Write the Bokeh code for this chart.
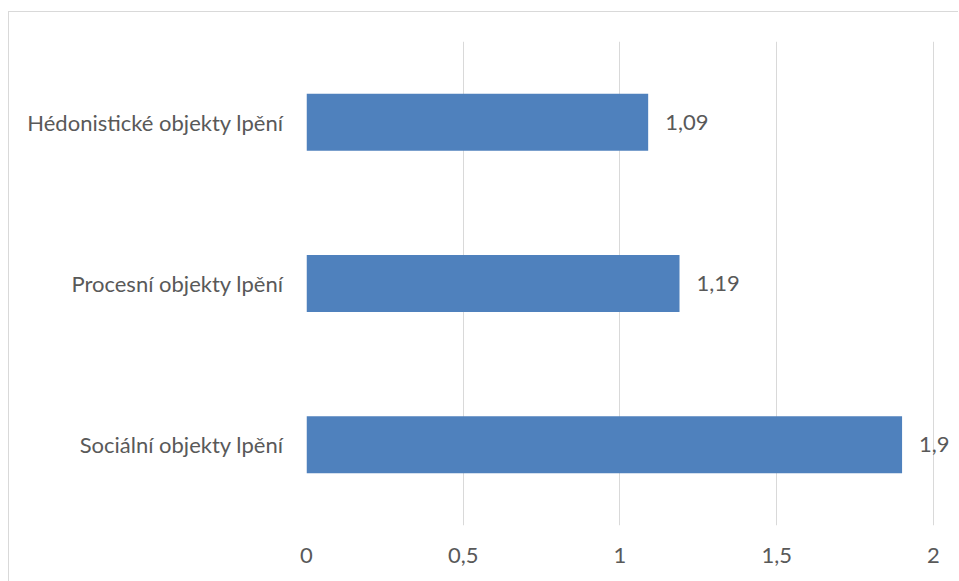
from bokeh.plotting import figure
from bokeh.models import ColumnDataSource, FactorRange, FixedTicker, LabelSet
from bokeh.core.properties import value
from bokeh.embed import file_html
from bokeh.resources import INLINE

categories = ["Hédonistické objekty lpění", "Procesní objekty lpění", "Sociální objekty lpění"]
values = [1.09, 1.19, 1.9]
x_ticks = [0, 0.5, 1, 1.5, 2]
x_tick_labels = ["0", "0,5", "1", "1,5", "2"]

FONT = "Lato"
FS = "22px"
TEXT_COLOR = "#595959"
GRID = "#D9D9D9"

labels = [str(v).replace(".", ",") for v in values]
src = ColumnDataSource(dict(cat=categories, val=values, lab=labels))

p = figure(
    frame_width=652, frame_height=484,
    y_range=FactorRange(factors=list(reversed(categories)), range_padding=0),
    x_range=(0, 2.08),
    output_backend="svg", toolbar_location=None,
    min_border_left=297, min_border_right=0, min_border_top=29, min_border_bottom=56,
)
p.margin = (11, 0, 0, 8)
p.styles = {"border-top": f"1px solid {GRID}", "border-left": f"1px solid {GRID}"}
p.outline_line_color = None

p.hbar(y="cat", right="val", height=0.353, source=src, color="#4F81BD", line_color=None)

p.add_layout(LabelSet(x="val", y="cat", text="lab", source=src, x_offset=17,
                      text_align="left", text_baseline="middle",
                      text_font=value(FONT), text_font_size=FS, text_color=TEXT_COLOR))

p.xaxis.ticker = FixedTicker(ticks=x_ticks)
p.xaxis.major_label_overrides = {t: l for t, l in zip(x_ticks, x_tick_labels)}
for ax in (p.xaxis, p.yaxis):
    ax.axis_line_color = None
    ax.major_tick_line_color = None
    ax.minor_tick_line_color = None
    ax.major_label_text_font = FONT
    ax.major_label_text_font_size = FS
    ax.major_label_text_color = TEXT_COLOR
p.xaxis.major_label_standoff = 16
p.yaxis.major_label_standoff = 17

p.xgrid.grid_line_color = GRID
p.xgrid.grid_line_width = 1
p.ygrid.grid_line_color = None

open("out.html", "w").write(file_html(p, INLINE))
